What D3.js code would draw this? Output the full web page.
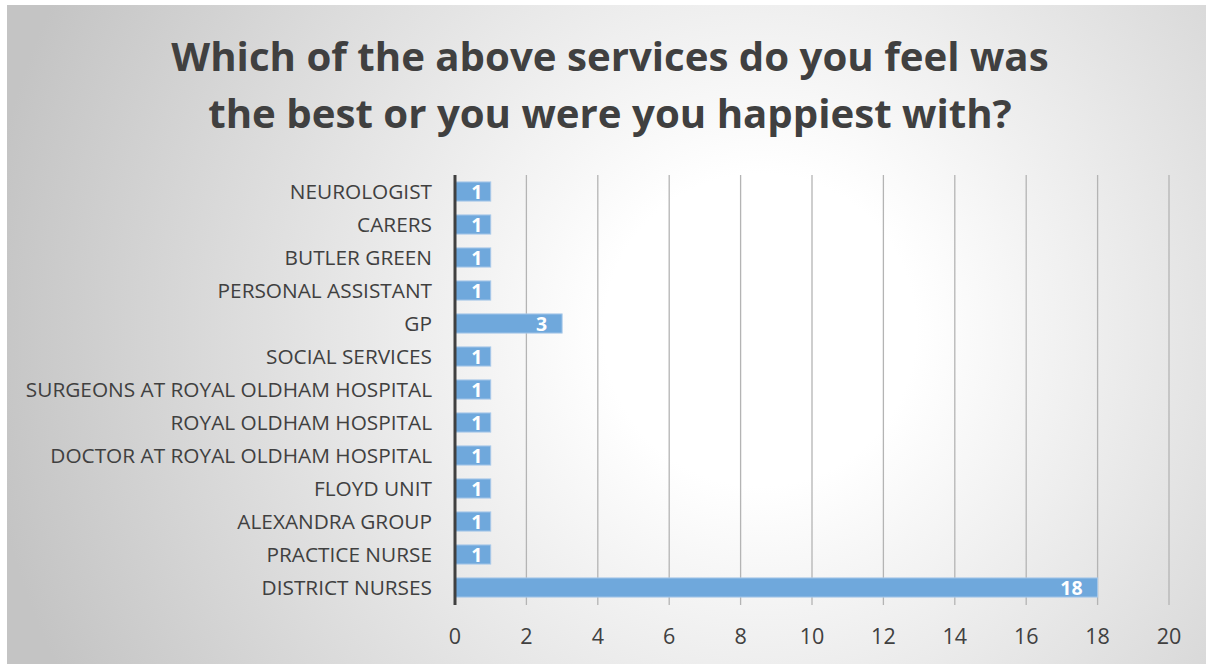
<!DOCTYPE html>
<html><head><meta charset="utf-8">
<script src="https://cdn.jsdelivr.net/npm/d3@7"></script>
<style>html,body{margin:0;padding:0;background:#fff;overflow:hidden}</style>
</head><body>
<svg id="chart" width="1206" height="664"></svg>
<script>
const categories = ["NEUROLOGIST","CARERS","BUTLER GREEN","PERSONAL ASSISTANT","GP","SOCIAL SERVICES","SURGEONS AT ROYAL OLDHAM HOSPITAL","ROYAL OLDHAM HOSPITAL","DOCTOR AT ROYAL OLDHAM HOSPITAL","FLOYD UNIT","ALEXANDRA GROUP","PRACTICE NURSE","DISTRICT NURSES"];
const values = [1,1,1,1,3,1,1,1,1,1,1,1,18];
const xTicks = [0,2,4,6,8,10,12,14,16,18,20];
const titleLines = ["Which of the above services do you feel was","the best or you were you happiest with?"];

const svg = d3.select("#chart");
const defs = svg.append("defs");
const grad = defs.append("radialGradient").attr("id","bg")
  .attr("gradientUnits","userSpaceOnUse").attr("cx",760).attr("cy",330).attr("r",780);
grad.append("stop").attr("offset","0").attr("stop-color","#ffffff");
grad.append("stop").attr("offset","0.2").attr("stop-color","#ffffff");
grad.append("stop").attr("offset","1").attr("stop-color","#c4c4c4");

svg.append("rect").attr("x",7).attr("y",5).attr("width",1199).attr("height",659).attr("fill","url(#bg)");

const x = d3.scaleLinear().domain([0,20]).range([455,1169]);
const y = d3.scaleBand().domain(categories).range([175,604]).paddingInner(0.42).paddingOuter(0.21);

// gridlines
svg.append("g").selectAll("line").data(xTicks.filter(d=>d>0)).join("line")
  .attr("x1",d=>x(d)).attr("x2",d=>x(d)).attr("y1",175).attr("y2",605)
  .attr("stroke","#b4b4b4").attr("stroke-width",1.3);

// bars
svg.append("g").selectAll("rect").data(values).join("rect")
  .attr("x",x(0)).attr("y",(d,i)=>y(categories[i]))
  .attr("width",d=>x(d)-x(0)).attr("height",y.bandwidth())
  .attr("fill","#6fa8dc").attr("stroke","#a9c9e9").attr("stroke-width",1);

// value labels
svg.append("g").selectAll("text").data(values).join("text")
  .attr("x",d=>x(d)-Math.min(15,(x(d)-x(0))*0.23)).attr("y",(d,i)=>y(categories[i])+y.bandwidth()/2)
  .attr("dy","0.37em").attr("text-anchor","end")
  .attr("font-family","Open Sans, sans-serif").attr("font-weight","bold").attr("font-size",19.5)
  .attr("fill","#ffffff").text(d=>d);

// axis line
svg.append("line").attr("x1",x(0)).attr("x2",x(0)).attr("y1",175).attr("y2",605)
  .attr("stroke","#404040").attr("stroke-width",3);

// category labels
svg.append("g").selectAll("text").data(categories).join("text")
  .attr("x",432).attr("y",d=>y(d)+y.bandwidth()/2).attr("dy","0.36em")
  .attr("text-anchor","end").attr("font-family","Open Sans, sans-serif").attr("font-size",20.8)
  .attr("fill","#404040").text(d=>d);

// x tick labels
svg.append("g").selectAll("text").data(xTicks).join("text")
  .attr("x",d=>x(d)).attr("y",636).attr("dy","0.36em").attr("text-anchor","middle")
  .attr("font-family","Open Sans, sans-serif").attr("font-size",21.5)
  .attr("fill","#404040").text(d=>d);

// title
svg.append("g").selectAll("text").data(titleLines).join("text")
  .attr("x",610).attr("y",(d,i)=>57+i*57).attr("dy","0.36em").attr("text-anchor","middle")
  .attr("font-family","Open Sans, sans-serif").attr("font-weight","bold").attr("font-size",40.2)
  .attr("fill","#404040").text(d=>d);
</script>
</body></html>
